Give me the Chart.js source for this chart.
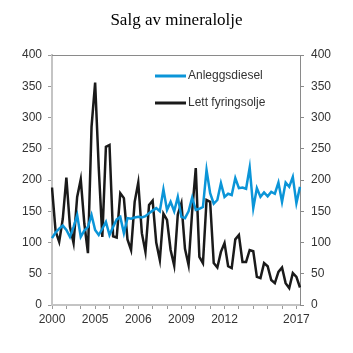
<!DOCTYPE html>
<html>
<head>
<meta charset="utf-8">
<script src="https://cdn.jsdelivr.net/npm/chart.js@4/dist/chart.umd.min.js"></script>
<style>
  html, body { margin: 0; padding: 0; background: #fff; }
  #wrap { width: 353px; height: 353px; }
</style>
</head>
<body>
<div id="wrap"><canvas id="salg" width="353" height="353"></canvas></div>
<script>
// kvartalsdata 2000K1 - 2017K2
const startYear = 2000;
const quarters = Array.from({ length: 70 }, (_, i) => `${startYear + Math.floor(i / 4)}K${(i % 4) + 1}`);

const anleggsdiesel = [
  107, 116, 122, 127, 120, 109, 125, 144, 109, 119, 125, 144,
  120, 112, 122, 133, 112, 125, 137, 141, 115, 139, 138, 140,
  141, 140, 142, 147, 151, 155, 150, 185, 152, 165, 150, 173,
  141, 139, 150, 172, 152, 154, 157, 216, 179, 162, 168, 195,
  173, 178, 176, 203, 187, 188, 186, 220, 155, 187, 173, 180,
  174, 181, 178, 196, 165, 196, 189, 205, 163, 189,
];

const lettFyringsolje = [
  188, 118, 101, 138, 204, 125, 99, 173, 201, 130, 83, 285,
  356, 220, 109, 253, 256, 110, 108, 179, 171, 105, 88, 165,
  196, 115, 85, 160, 167, 100, 72, 146, 136, 88, 63, 145,
  163, 90, 64, 150, 219, 77, 67, 168, 165, 67, 60, 85,
  99, 62, 59, 105, 112, 69, 69, 88, 86, 45, 43, 67,
  62, 40, 35, 53, 60, 35, 27, 51, 45, 28,
];

// årstall som står under aksen (som i originalen)
const xTickIndex = [0, 12, 24, 36, 48, 68];
const xTickLabels = ['2000', '2005', '2006', '2009', '2012', '2017'];

const seriesNames = ['Anleggsdiesel', 'Lett fyringsolje'];
const seriesColors = ['#0b95d8', '#1a1a1a'];

const tickFont = { family: 'Liberation Sans, Arial, sans-serif', size: 12 };

const frameAndLegend = {
  id: 'frameAndLegend',
  afterDatasetsDraw(chart) {
    const { ctx, chartArea } = chart;
    ctx.save();
    // toppkant
    ctx.strokeStyle = '#8a8a8a';
    ctx.lineWidth = 1;
    ctx.beginPath();
    ctx.moveTo(chartArea.left, chartArea.top + 0.5);
    ctx.lineTo(chartArea.right, chartArea.top + 0.5);
    ctx.stroke();

    // tegnforklaring inne i plottet
    const legendX = 155;
    const rows = [76, 103];
    ctx.font = '12px Liberation Sans, Arial, sans-serif';
    ctx.textBaseline = 'middle';
    chart.data.datasets.forEach((ds, i) => {
      ctx.strokeStyle = ds.borderColor;
      ctx.lineWidth = 3;
      ctx.beginPath();
      ctx.moveTo(legendX, rows[i]);
      ctx.lineTo(legendX + 31, rows[i]);
      ctx.stroke();
      ctx.fillStyle = '#333';
      ctx.fillText(ds.label, legendX + 33, rows[i]);
    });
    ctx.restore();
  },
};

const ctx = document.getElementById('salg').getContext('2d');
const salgChart = new Chart(ctx, {
  type: 'line',
  data: {
    labels: quarters,
    datasets: [
      {
        label: seriesNames[0],
        data: anleggsdiesel,
        borderColor: seriesColors[0],
        borderWidth: 2.5,
        pointRadius: 0,
        tension: 0,
      },
      {
        label: seriesNames[1],
        data: lettFyringsolje,
        borderColor: seriesColors[1],
        borderWidth: 2.5,
        pointRadius: 0,
        tension: 0,
      },
    ],
  },
  options: {
    responsive: false,
    animation: false,
    layout: { padding: 0 },
    scales: {
      x: {
        type: 'category',
        offset: false,
        afterFit: (scale) => { scale.height = 48; },
        grid: {
          drawOnChartArea: false,
          tickLength: 4,
          tickColor: (c) => (c.index % 4 === 0 ? '#9a9a9a' : 'rgba(0,0,0,0)'),
        },
        border: { color: '#c4c4c4', width: 2 },
        ticks: {
          autoSkip: false,
          maxRotation: 0,
          padding: 3,
          color: '#333',
          font: tickFont,
          callback: (val, index) => {
            const k = xTickIndex.indexOf(index);
            return k >= 0 ? xTickLabels[k] : '';
          },
        },
      },
      y: {
        position: 'left',
        min: 0,
        max: 400,
        afterFit: (scale) => { scale.width = 52; },
        grid: { drawOnChartArea: false, tickLength: 4, tickColor: '#9a9a9a' },
        border: { color: '#c4c4c4', width: 2 },
        ticks: { stepSize: 50, padding: 6, color: '#333', font: tickFont },
      },
      y2: {
        position: 'right',
        min: 0,
        max: 400,
        afterFit: (scale) => { scale.width = 53; },
        grid: { drawOnChartArea: false, tickLength: 4, tickColor: '#8a8a8a' },
        border: { color: '#8a8a8a', width: 1 },
        ticks: { stepSize: 50, padding: 7, color: '#333', font: tickFont },
      },
    },
    plugins: {
      legend: { display: false },
      tooltip: { enabled: false },
      title: {
        display: true,
        text: 'Salg av mineralolje',
        color: '#000',
        font: { family: 'Liberation Serif, Times New Roman, serif', size: 17, weight: 'normal' },
        padding: { top: 10, bottom: 24.6 },
      },
    },
  },
  plugins: [frameAndLegend],
});
</script>
</body>
</html>
